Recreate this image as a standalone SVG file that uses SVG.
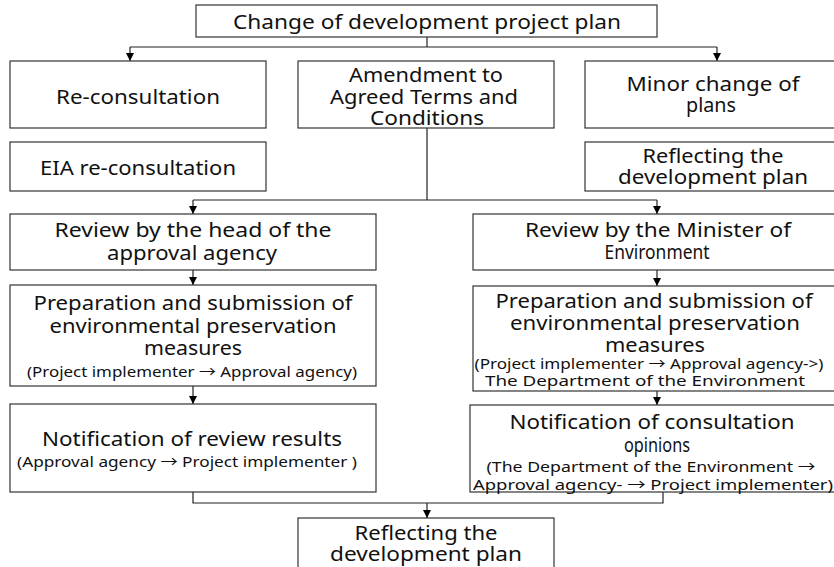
<svg xmlns="http://www.w3.org/2000/svg" width="834" height="567" viewBox="0 0 834 567">
<defs>
<marker id="ah" viewBox="0 0 10 10" refX="10" refY="5" markerWidth="8" markerHeight="8" markerUnits="userSpaceOnUse" orient="auto">
<path d="M0,0 L10,5 L0,10 z" fill="#000"/>
</marker>
</defs>
<style>
rect{fill:#fff;stroke:#333;stroke-width:1.2}
text{font-family:"Noto Sans","Noto Sans CJK KR",sans-serif;fill:#111;text-anchor:middle;dominant-baseline:central}
.m{font-size:20px}
.s{font-size:15px}
.c line,.c path{stroke:#222;stroke-width:1.2;fill:none}
</style>
<rect x="0" y="0" width="834" height="567" style="fill:#fff;stroke:none"/>
<g class="c" id="connectors">
<path d="M427,37 V47"/>
<path d="M130,47 H717"/>
<line x1="130" y1="47" x2="130" y2="61" marker-end="url(#ah)"/>
<line x1="717" y1="47" x2="717" y2="61" marker-end="url(#ah)"/>
<path d="M427,128 V200"/>
<path d="M193,200 H657"/>
<line x1="193" y1="200" x2="193" y2="214" marker-end="url(#ah)"/>
<line x1="657" y1="200" x2="657" y2="214" marker-end="url(#ah)"/>
<line x1="193" y1="270" x2="193" y2="285" marker-end="url(#ah)"/>
<line x1="657" y1="270" x2="657" y2="286" marker-end="url(#ah)"/>
<line x1="193" y1="386" x2="193" y2="404" marker-end="url(#ah)"/>
<line x1="657" y1="391" x2="657" y2="405" marker-end="url(#ah)"/>
<path d="M193,492 V503 H663 V492"/>
<line x1="427" y1="503" x2="427" y2="518" marker-end="url(#ah)"/>
</g>
<g id="n-top"><rect x="196" y="5" width="461" height="32"/><text class="m" x="427" y="21" textLength="388" lengthAdjust="spacingAndGlyphs">Change of development project plan</text></g>
<g id="n-recons"><rect x="10" y="61" width="256" height="67"/><text class="m" x="138" y="96" textLength="164" lengthAdjust="spacingAndGlyphs">Re-consultation</text></g>
<g id="n-amend"><rect x="298" y="61" width="256" height="67"/>
<text class="m" x="426" y="74" textLength="154" lengthAdjust="spacingAndGlyphs">Amendment to</text>
<text class="m" x="424" y="96" textLength="188" lengthAdjust="spacingAndGlyphs">Agreed Terms and</text>
<text class="m" x="427" y="117" textLength="114" lengthAdjust="spacingAndGlyphs">Conditions</text></g>
<g id="n-minor"><rect x="585" y="61" width="252" height="67"/>
<text class="m" x="713" y="83" textLength="173" lengthAdjust="spacingAndGlyphs">Minor change of</text>
<text class="m" x="711" y="104" textLength="50" lengthAdjust="spacingAndGlyphs">plans</text></g>
<g id="n-eia"><rect x="10" y="142" width="256" height="49"/><text class="m" x="138" y="167" textLength="196" lengthAdjust="spacingAndGlyphs">EIA re-consultation</text></g>
<g id="n-reflect1"><rect x="585" y="142" width="252" height="49"/>
<text class="m" x="713" y="155" textLength="141" lengthAdjust="spacingAndGlyphs">Reflecting the</text>
<text class="m" x="713" y="176" textLength="190" lengthAdjust="spacingAndGlyphs">development plan</text></g>
<g id="n-revhead"><rect x="10" y="214" width="366" height="56"/>
<text class="m" x="193" y="229" textLength="277" lengthAdjust="spacingAndGlyphs">Review by the head of the</text>
<text class="m" x="192" y="252" textLength="170" lengthAdjust="spacingAndGlyphs">approval agency</text></g>
<g id="n-revmin"><rect x="473" y="214" width="364" height="56"/>
<text class="m" x="658" y="229" textLength="266" lengthAdjust="spacingAndGlyphs">Review by the Minister of</text>
<text class="m" x="657" y="251" textLength="105" lengthAdjust="spacingAndGlyphs">Environment</text></g>
<g id="n-prepL"><rect x="10" y="285" width="366" height="101"/>
<text class="m" x="193" y="302" textLength="319" lengthAdjust="spacingAndGlyphs">Preparation and submission of</text>
<text class="m" x="193" y="325" textLength="287" lengthAdjust="spacingAndGlyphs">environmental preservation</text>
<text class="m" x="193" y="347" textLength="98" lengthAdjust="spacingAndGlyphs">measures</text>
<text class="s" x="192" y="371" textLength="330" lengthAdjust="spacingAndGlyphs">(Project implementer → Approval agency)</text></g>
<g id="n-prepR"><rect x="473" y="286" width="364" height="105"/>
<text class="m" x="654" y="300" textLength="317" lengthAdjust="spacingAndGlyphs">Preparation and submission of</text>
<text class="m" x="655" y="322" textLength="290" lengthAdjust="spacingAndGlyphs">environmental preservation</text>
<text class="m" x="655" y="344" textLength="100" lengthAdjust="spacingAndGlyphs">measures</text>
<text class="s" x="649" y="363" textLength="349" lengthAdjust="spacingAndGlyphs">(Project implementer → Approval agency-&gt;)</text>
<text class="s" x="645" y="380" textLength="320" lengthAdjust="spacingAndGlyphs">The Department of the Environment</text></g>
<g id="n-notifL"><rect x="10" y="404" width="366" height="88"/>
<text class="m" x="192" y="438" textLength="300" lengthAdjust="spacingAndGlyphs">Notification of review results</text>
<text class="s" x="187" y="461" textLength="340" lengthAdjust="spacingAndGlyphs">(Approval agency → Project implementer )</text></g>
<g id="n-notifR"><rect x="470" y="405" width="367" height="87"/>
<text class="m" x="652" y="421" textLength="285" lengthAdjust="spacingAndGlyphs">Notification of consultation</text>
<text class="m" x="657" y="444" textLength="66" lengthAdjust="spacingAndGlyphs">opinions</text>
<text class="s" x="651" y="466" textLength="329" lengthAdjust="spacingAndGlyphs">(The Department of the Environment →</text>
<text class="s" x="653" y="484" textLength="360" lengthAdjust="spacingAndGlyphs">Approval agency- → Project implementer)</text></g>
<g id="n-reflect2"><rect x="298" y="518" width="256" height="60"/>
<text class="m" x="426" y="532" textLength="143" lengthAdjust="spacingAndGlyphs">Reflecting the</text>
<text class="m" x="426" y="553" textLength="192" lengthAdjust="spacingAndGlyphs">development plan</text></g>
</svg>
